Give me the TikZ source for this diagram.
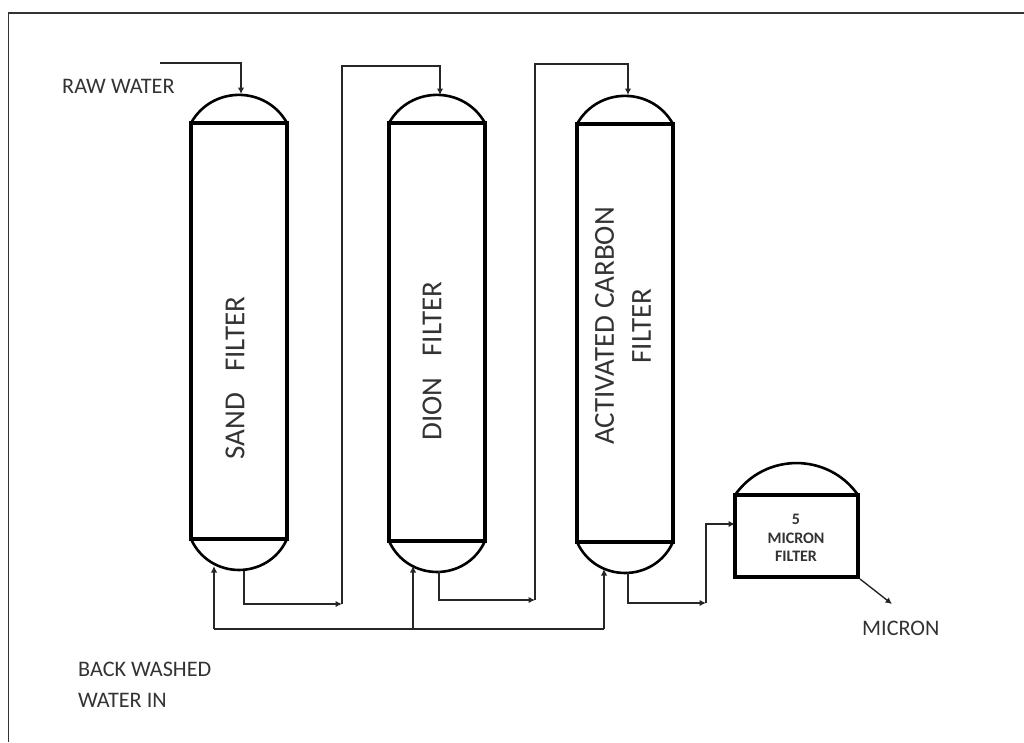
\documentclass[tikz,border=0pt]{standalone}
\usepackage{fontspec}
\setmainfont{Carlito}
\usetikzlibrary{arrows.meta}
\definecolor{txt}{HTML}{333333}
\tikzset{
  x=1pt,y=-1pt,
  body/.style={draw=black,line width=3.2pt,minimum width=#1,inner sep=0pt,outer sep=0pt,anchor=north west,fill=none},
  dome/.style={draw=black,line width=2.6pt},
  pipe/.style={draw=black!85,line width=1.4pt},
  flow/.style={pipe,-{Latex[length=6.5pt,width=6.5pt]}},
  lab/.style={text=txt,font=\fontsize{22.2}{26}\selectfont,inner sep=0pt},
  vlab/.style={lab,font=\fontsize{29}{37}\selectfont,rotate=90,align=center},
  slab/.style={lab,font=\fontsize{16}{18.7}\selectfont\bfseries,align=center}
}
\begin{document}
\begin{tikzpicture}
\useasboundingbox (0,0) rectangle (1024,742);
\draw[black!80,line width=1.2pt] (1024,13) -- (8.5,13) -- (8.5,742);
% vessels
\node[body=96pt,minimum height=416pt] (v1) at (191,123) {};
\node[body=96pt,minimum height=418pt] (v2) at (389,123) {};
\node[body=96pt,minimum height=418pt] (v3) at (577,124) {};
\node[body=123pt,minimum height=82pt] (v4) at (735,495) {};
\foreach \v in {v1,v2,v3}{
  \draw[dome] (\v.north west) .. controls ([xshift=21pt,yshift=37.5pt]\v.north west) and ([xshift=-21pt,yshift=37.5pt]\v.north east) .. (\v.north east);
  \draw[dome] (\v.south west) .. controls ([xshift=18.7pt,yshift=-41.3pt]\v.south west) and ([xshift=-18.7pt,yshift=-41.3pt]\v.south east) .. (\v.south east);
}
\draw[dome] (v4.north west) .. controls ([xshift=29.8pt,yshift=42.6pt]v4.north west) and ([xshift=-29.8pt,yshift=42.6pt]v4.north east) .. (v4.north east);
% named pipe points
\coordinate (rawS) at (160,63);
\coordinate (rawC) at (241,63);
\coordinate (in1) at (241,94);
\coordinate (o1) at (244,571);
\coordinate (o1c) at (244,604);
\coordinate (j1) at (342,604);
\coordinate (j1t) at (342,66);
\coordinate (c2) at (440,66);
\coordinate (in2) at (440,95);
\coordinate (o2) at (439,571);
\coordinate (o2c) at (439,600);
\coordinate (j2) at (535,600);
\coordinate (j2t) at (535,64);
\coordinate (c3) at (628,64);
\coordinate (in3) at (628,95);
\coordinate (o3) at (628,573);
\coordinate (o3c) at (628,603);
\coordinate (j3) at (706,603);
\coordinate (j3t) at (706,524);
\coordinate (in4) at (735,524);
\coordinate (o4) at (860,579);
\coordinate (out) at (892,604);
\coordinate (b1) at (214,629);
\coordinate (b1t) at (214,566);
\coordinate (b2) at (413,629);
\coordinate (b2t) at (413,566);
\coordinate (b3) at (604,629);
\coordinate (b3t) at (604,569);
% connectors
\draw[flow] (rawS) -- (rawC) -- (in1);
\draw[flow] (o1) -- (o1c) -- (j1);
\draw[flow] (j1) -- (j1t) -- (c2) -- (in2);
\draw[flow] (o2) -- (o2c) -- (j2);
\draw[flow] (j2) -- (j2t) -- (c3) -- (in3);
\draw[flow] (o3) -- (o3c) -- (j3);
\draw[flow] (j3) -- (j3t) -- (in4);
\draw[flow] (o4) -- (out);
\draw[pipe] (b1) -- (b3);
\draw[flow] (b1) -- (b1t);
\draw[flow] (b2) -- (b2t);
\draw[flow] (b3) -- (b3t);
% labels
\node[lab,anchor=west] (raw) at (62,86) {RAW WATER};
\node[vlab] (t1) at (235,378) {SAND\hspace{0.5em} FILTER};
\node[vlab] (t2) at (432,361) {DION\hspace{0.5em} FILTER};
\node[vlab] (t3) at (623,326) {ACTIVATED CARBON\\FILTER};
\node[slab] (t4) at (796,538) {5\\MICRON\\FILTER};
\node[lab,anchor=west] (mic) at (862,628) {MICRON};
\node[lab,anchor=west] (back) at (78,669) {BACK WASHED};
\node[lab,anchor=west] (wat) at (78,700) {WATER IN};
\end{tikzpicture}
\end{document}
